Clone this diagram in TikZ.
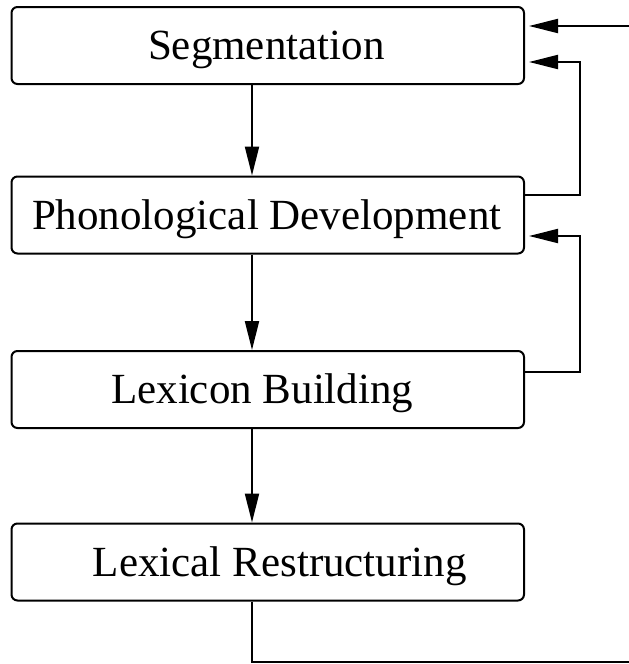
\documentclass[tikz,border=0pt]{standalone}
\usepackage{fontspec}
\setmainfont{Liberation Serif}
\usetikzlibrary{arrows.meta}
\newcommand{\boxtext}[2][0pt]{\hspace*{#1}\raisebox{-4pt}[\height][\depth]{#2}}
\begin{document}
\begin{tikzpicture}[x=1pt,y=-1pt,
  box/.style={draw, line width=2pt, rounded corners=6pt, minimum width=512.5pt,
    minimum height=77pt, inner sep=0pt, font=\fontsize{43}{50}\selectfont},
  conn/.style={line width=2pt, -{Triangle[length=29pt,width=14pt]}},
  fb/.style={conn, shorten >=4pt}]
\useasboundingbox (0,0) rectangle (629,664);
\node[box] (seg)  at (267.75,45.5)  {\boxtext[-3pt]{Segmentation}};
\node[box] (phon) at (267.75,215)   {\boxtext[-2pt]{Phonological Development}};
\node[box] (lex)  at (267.75,389.5) {\boxtext[-11pt]{Lexicon Building}};
\node[box] (lr)   at (267.75,562)   {\boxtext[24pt]{Lexical Restructuring}};
% downward arrows
\draw[conn] ([xshift=-15.75pt]seg.south) -- ([xshift=-15.75pt]phon.north);
\draw[conn] ([xshift=-15.75pt]phon.south) -- ([xshift=-15.75pt]lex.north);
\draw[conn] ([xshift=-15.75pt]lex.south) -- ([xshift=-15.75pt]lr.north);
% feedback loops
\draw[fb] ([yshift=20pt]phon.east) -- ++(55,0) |- ([yshift=-16.5pt]seg.east);
\draw[fb] ([yshift=17.5pt]lex.east) -- ++(55,0) |- ([yshift=-21pt]phon.east);
\coordinate (bl) at (252,662);
\coordinate (br) at (631,662);
\draw[fb] ([xshift=-15.75pt]lr.south) -- (bl) -- (br) |- ([yshift=19.5pt]seg.east);
\end{tikzpicture}
\end{document}
